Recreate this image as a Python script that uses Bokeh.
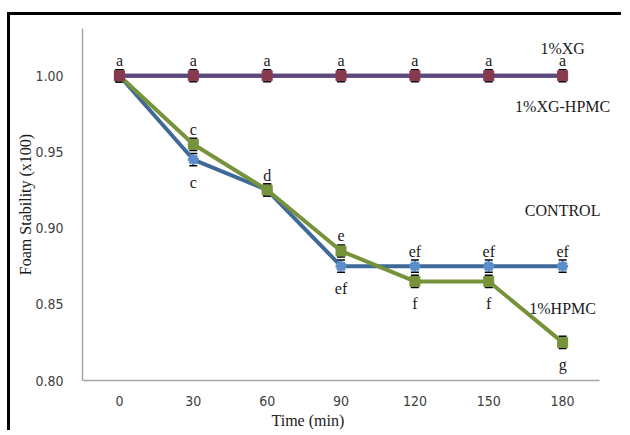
from bokeh.plotting import figure
from bokeh.models import ColumnDataSource, Whisker, TeeHead, Label, Title, FixedTicker, NumeralTickFormatter
from bokeh.core.properties import value
from bokeh.embed import file_html
from bokeh.resources import INLINE

# ---- data ----
time_min = [0, 30, 60, 90, 120, 150, 180]
xg = [1.00, 1.00, 1.00, 1.00, 1.00, 1.00, 1.00]
xg_hpmc = [1.00, 1.00, 1.00, 1.00, 1.00, 1.00, 1.00]
control = [1.00, 0.945, 0.925, 0.875, 0.875, 0.875, 0.875]
hpmc = [1.00, 0.955, 0.925, 0.885, 0.865, 0.865, 0.825]
err = [0.004, 0.004, 0.004, 0.004, 0.004, 0.004, 0.004]

# significance letters
top_letters = ["a", "a", "a", "a", "a", "a", "a"]
hpmc_letters_above = {1: "c", 2: "d", 3: "e"}
control_letters_below = {1: "c", 3: "ef"}
control_letters_above = {4: "ef", 5: "ef", 6: "ef"}
hpmc_letters_below = {4: "f", 5: "f", 6: "g"}

series_names = ["1%XG", "1%XG-HPMC", "CONTROL", "1%HPMC"]
series_name_y = [1.0177, 0.9797, 0.9115, 0.8472]

y_ticks = [0.80, 0.85, 0.90, 0.95, 1.00]

SERIF = "Liberation Serif"
SERIF_V = value(SERIF)
TICK_FONT = "DejaVu Sans Condensed"
C_XG = "#5b4a80"
C_XGH = "#873a4e"
C_CTRL = "#3f6a98"
C_CTRL_M = "#5b8ccc"
C_HPMC = "#76933c"

p = figure(width=611, height=415, output_backend="svg", toolbar_location=None,
           x_range=(-15, 199.85), y_range=(0.80, 1.031),
           min_border_left=72, min_border_right=13, min_border_top=13, min_border_bottom=53)
p.styles = {"border-top": "3px solid black", "border-left": "3px solid black",
            "box-sizing": "content-box",
            "margin-left": "7px", "margin-top": "12px"}
p.outline_line_color = None
p.xgrid.grid_line_color = None
p.ygrid.grid_line_color = None
p.background_fill_color = "white"
p.border_fill_color = "white"

# lines
p.line(time_min, xg_hpmc, line_color=C_XGH, line_width=4)
p.line(time_min, xg, line_color=C_XG, line_width=4)
p.line(time_min, control, line_color=C_CTRL, line_width=4)
p.line(time_min, hpmc, line_color=C_HPMC, line_width=4)

# error bars
for vals in (control, hpmc, xg_hpmc):
    src = ColumnDataSource(dict(x=time_min,
                                lo=[v - e for v, e in zip(vals, err)],
                                hi=[v + e for v, e in zip(vals, err)]))
    w = Whisker(base="x", upper="hi", lower="lo", source=src, line_color="black", line_width=1.2,
                upper_head=TeeHead(size=8, line_color="black", line_width=1.5),
                lower_head=TeeHead(size=8, line_color="black", line_width=1.5))
    p.add_layout(w)

# markers
p.scatter(time_min, control, marker="asterisk", size=11, line_color=C_CTRL_M, line_width=3)
p.scatter(time_min, hpmc, marker="square", size=10, fill_color=C_HPMC, line_color=C_HPMC)
p.scatter(time_min, xg_hpmc, marker="square", size=10, fill_color=C_XGH, line_color=C_XGH)


def letters(xs, ys, txt, above):
    src = ColumnDataSource(dict(x=xs, y=ys, t=txt))
    p.text("x", "y", text="t", source=src, text_align="center",
           text_baseline="alphabetic" if above else "top",
           y_offset=-15 if above else 14,
           text_font=SERIF_V, text_font_size="16px", text_color="#1a1a1a")


letters(time_min, xg, top_letters, True)
for d, vals, above in ((hpmc_letters_above, hpmc, True), (control_letters_below, control, False),
                       (control_letters_above, control, True), (hpmc_letters_below, hpmc, False)):
    idx = sorted(d)
    letters([time_min[i] for i in idx], [vals[i] for i in idx], [d[i] for i in idx], above)

for name, yy in zip(series_names, series_name_y):
    p.add_layout(Label(x=time_min[-1], y=yy, text=name, text_align="center",
                       text_baseline="alphabetic", text_font=SERIF, text_font_size="16px",
                       text_color="#1a1a1a"))

# axes
p.xaxis.ticker = FixedTicker(ticks=time_min)
p.yaxis.ticker = FixedTicker(ticks=y_ticks)
p.yaxis.formatter = NumeralTickFormatter(format="0.00")
p.xaxis.bounds = (-15, 195)
for ax in (p.xaxis[0], p.yaxis[0]):
    ax.axis_line_color = "#a6a6a6"
    ax.axis_line_width = 1.5
    ax.major_tick_line_color = None
    ax.minor_tick_line_color = None
    ax.major_label_text_font = TICK_FONT
    ax.major_label_text_font_size = "14px"
    ax.major_label_text_color = "#404040"
p.yaxis.major_label_standoff = 13
p.xaxis.major_label_standoff = 9
p.yaxis.axis_label = "Foam Stability (x100)"
p.yaxis.axis_label_text_font = SERIF
p.yaxis.axis_label_text_font_style = "normal"
p.yaxis.axis_label_text_font_size = "16px"
p.yaxis.axis_label_text_color = "#1a1a1a"
p.yaxis.axis_label_standoff = -2

p.add_layout(Title(text="Time (min)", align="left", offset=189, text_font=SERIF,
                   text_font_style="normal", text_font_size="16px", text_color="#1a1a1a",
                   standoff=3), "below")

open("out.html", "w").write(file_html(p, INLINE))
